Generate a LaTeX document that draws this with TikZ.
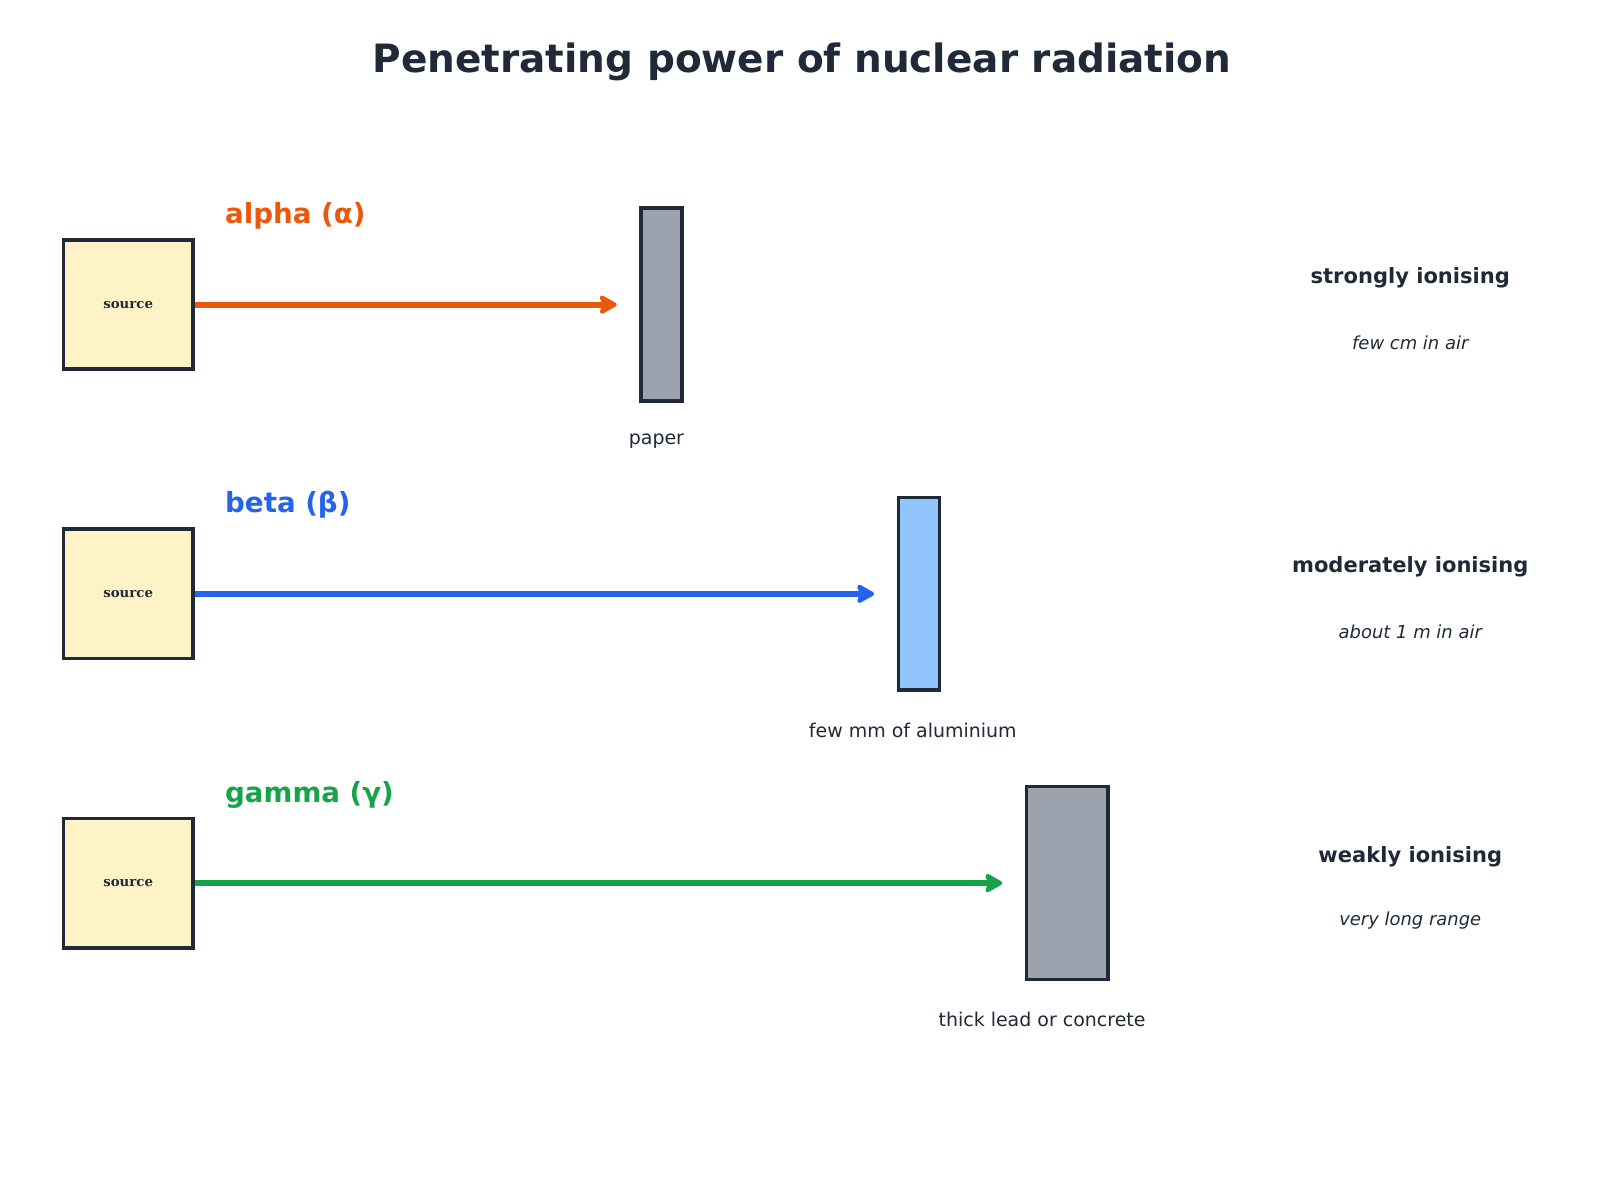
\documentclass[tikz,border=0pt]{standalone}
\usepackage{fontspec}
\setmainfont{DejaVu Sans}
\newfontfamily\srcfont{DejaVu Serif}
\usetikzlibrary{arrows.meta}
\definecolor{ink}{HTML}{1F2937}
\definecolor{srcfill}{HTML}{FEF3C7}
\definecolor{gr}{HTML}{9CA3AF}
\definecolor{al}{HTML}{93C5FD}
\definecolor{ca}{HTML}{EA580C}
\definecolor{cb}{HTML}{2563EB}
\definecolor{cg}{HTML}{16A34A}
\begin{document}
\begin{tikzpicture}[x=1pt,y=-1pt,
  src/.style={draw=ink,fill=srcfill,line width=3.5pt,minimum width=126pt,minimum height=126pt,inner sep=0pt,font=\srcfont\bfseries\fontsize{13}{15}\selectfont,text=ink},
  bar/.style={draw=ink,line width=3.5pt,minimum width=40pt,minimum height=188pt,inner sep=0pt},
  ray/.style={line width=6pt,-{Stealth[length=20pt,width=22pt,inset=4pt,round]},shorten >=22pt},
  kind/.style={anchor=west,font=\bfseries\fontsize{27}{31}\selectfont},
  blab/.style={text=ink,font=\fontsize{18.5}{22}\selectfont},
  ion/.style={text=ink,font=\bfseries\fontsize{20.5}{24}\selectfont},
  rng/.style={text=ink,font=\itshape\fontsize{17.5}{20}\selectfont}]
\useasboundingbox (0,0) rectangle (1560,1170);
\node[text=ink,font=\bfseries\fontsize{38}{44}\selectfont] (title) at (782,60) {Penetrating power of nuclear radiation};
% alpha
\node[src] (s1) at (125,297) {source};
\node[bar,fill=gr] (b1) at (645,297) {};
\draw[ray,ca] (s1.east) -- (b1.west);
\node[kind,text=ca] (k1) at (216,210) {alpha (α)};
\node[blab] (l1) at (640,430) {paper};
\node[ion] (i1) at (1375,271) {strongly ionising};
\node[rng] (r1) at (1375,334) {few cm in air};
% beta
\node[src] (s2) at (125,579) {source};
\node[bar,fill=al] (b2) at (896,579) {};
\draw[ray,cb] (s2.east) -- (b2.west);
\node[kind,text=cb] (k2) at (216,492) {beta (β)};
\node[blab] (l2) at (890,712) {few mm of aluminium};
\node[ion] (i2) at (1375,553) {moderately ionising};
\node[rng] (r2) at (1375,616) {about 1 m in air};
% gamma
\node[src] (s3) at (125,861) {source};
\node[bar,fill=gr,minimum width=79pt] (b3) at (1040.5,861) {};
\draw[ray,cg] (s3.east) -- (b3.west);
\node[kind,text=cg] (k3) at (216,775) {gamma (γ)};
\node[blab] (l3) at (1016,994) {thick lead or concrete};
\node[ion] (i3) at (1375,835) {weakly ionising};
\node[rng] (r3) at (1375,898) {very long range};
\end{tikzpicture}
\end{document}
